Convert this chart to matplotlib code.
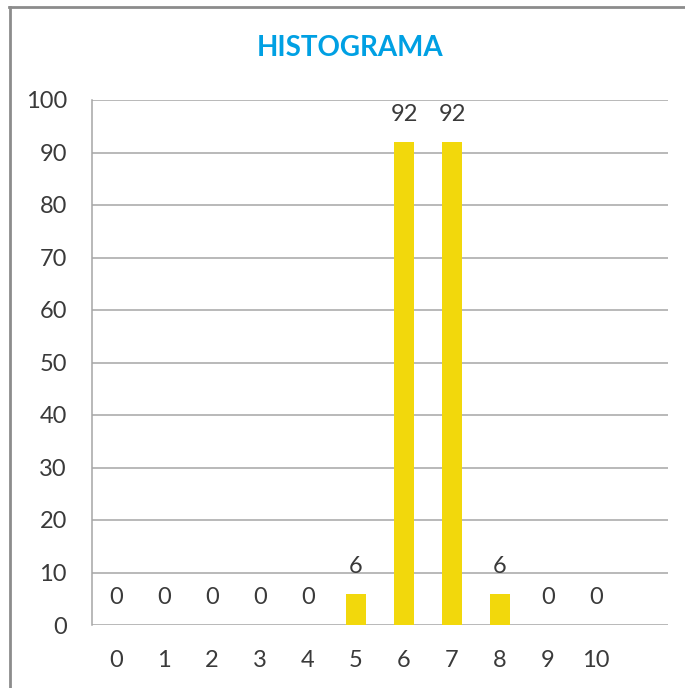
import matplotlib
matplotlib.use("Agg")
import matplotlib.pyplot as plt
from matplotlib.lines import Line2D

# =========================
# Datos
# =========================

categorias = ["0", "1", "2", "3", "4", "5", "6", "7", "8", "9", "10"]
frecuencias = [0, 0, 0, 0, 0, 6, 92, 92, 6, 0, 0]
y_ticks = [0, 10, 20, 30, 40, 50, 60, 70, 80, 90, 100]

# =========================
# Estilo
# =========================

plt.rcParams["font.family"] = ["Lato", "DejaVu Sans"]
TEXT_COLOR = "#3A3A3A"
GRID_COLOR = "#A6A6A6"
BAR_COLOR = "#F2D80C"
TITLE_COLOR = "#00A0E3"

W, H = 685, 688
fig = plt.figure(figsize=(W / 100, H / 100), dpi=100)
ax = fig.add_axes([92 / W, 1 - 625 / H, (668 - 92) / W, (625 - 100) / H])

x = list(range(len(categorias)))
bars = ax.bar(x, frecuencias, width=0.4, color=BAR_COLOR, zorder=3)

for xi, v in zip(x, frecuencias):
    ax.annotate(str(v), (xi, v), xytext=(0, 19.5), textcoords="offset points",
                ha="center", va="center", fontsize=17, color=TEXT_COLOR)

ax.set_xlim(-0.5, len(categorias) + 0.5)
ax.set_ylim(0, 100)
ax.set_xticks(x)
ax.set_xticklabels(categorias)
ax.set_yticks(y_ticks)
ax.tick_params(axis="both", length=0, labelsize=17, colors=TEXT_COLOR)
ax.tick_params(axis="x", pad=18)
ax.tick_params(axis="y", pad=18)

ax.grid(axis="y", color=GRID_COLOR, linewidth=1.1, zorder=0)
ax.set_axisbelow(True)
for s in ["top", "right", "bottom"]:
    ax.spines[s].set_visible(False)
ax.spines["left"].set_color(GRID_COLOR)
ax.spines["left"].set_linewidth(1.1)

fig.text(350 / W, 1 - 48 / H, "HISTOGRAMA", ha="center", va="center",
         fontsize=20, fontweight="bold", color=TITLE_COLOR)

# borde del grafico (solo arriba e izquierda, recortado)
fig.add_artist(Line2D([9 / W, 1], [1 - 7 / H, 1 - 7 / H], transform=fig.transFigure,
                      color="#8C8C8C", linewidth=2))
fig.add_artist(Line2D([9.5 / W, 9.5 / W], [0, 1 - 7 / H], transform=fig.transFigure,
                      color="#8C8C8C", linewidth=2))

fig.savefig("out.png", dpi=100)
